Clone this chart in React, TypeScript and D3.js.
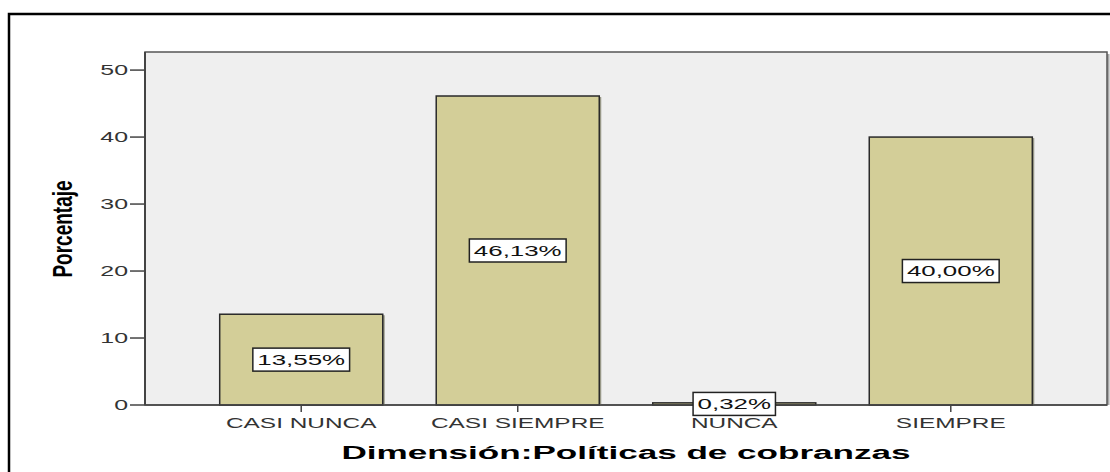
import React, { useEffect, useRef } from "react";
import * as d3 from "d3";

const categories = ["CASI NUNCA", "CASI SIEMPRE", "NUNCA", "SIEMPRE"];
const percentages = [13.55, 46.13, 0.32, 40.0];
const barLabels = ["13,55%", "46,13%", "0,32%", "40,00%"];
const yTicks = [0, 10, 20, 30, 40, 50];

const W = 1110;
const H = 472;
const FONT = "'Liberation Sans', Arial, sans-serif";
const SX = 1.78; // the picture is stretched sideways

export default function App() {
  const svgRef = useRef<SVGSVGElement>(null);

  useEffect(() => {
    if (!svgRef.current) return;
    const svg = d3.select(svgRef.current);
    svg.selectAll("*").remove();

    const plot = { left: 145, right: 1107, top: 52, bottom: 405 };

    const x = d3
      .scaleBand<string>()
      .domain(categories)
      .range([plot.left, plot.right])
      .paddingInner(0.247)
      .paddingOuter(0.345);

    const y = d3.scaleLinear().domain([0, 52.7]).range([plot.bottom, plot.top]);

    // outer frame (cut by the page edges)
    svg
      .append("rect")
      .attr("x", 9)
      .attr("y", 14)
      .attr("width", 1300)
      .attr("height", 700)
      .attr("fill", "#fff")
      .attr("stroke", "#000")
      .attr("stroke-width", 2.5);

    // plot background, with a thin shadow on the right
    svg
      .append("rect")
      .attr("x", plot.right)
      .attr("y", plot.top + 2)
      .attr("width", 2.5)
      .attr("height", plot.bottom - plot.top - 2)
      .attr("fill", "#a8a8a8");
    svg
      .append("rect")
      .attr("x", plot.left)
      .attr("y", plot.top)
      .attr("width", plot.right - plot.left)
      .attr("height", plot.bottom - plot.top)
      .attr("fill", "#efefef")
      .attr("stroke", "#555")
      .attr("stroke-width", 1.5);

    const data = categories.map((c, i) => ({
      cat: c,
      value: percentages[i],
      label: barLabels[i],
    }));

    // bar shadows
    svg
      .selectAll(".shadow")
      .data(data)
      .enter()
      .append("rect")
      .attr("x", (d) => x(d.cat)! + 2)
      .attr("y", (d) => y(d.value) + 1)
      .attr("width", x.bandwidth())
      .attr("height", (d) => plot.bottom - y(d.value) - 1)
      .attr("fill", "#9a9a8a");

    svg
      .selectAll(".bar")
      .data(data)
      .enter()
      .append("rect")
      .attr("x", (d) => x(d.cat)!)
      .attr("y", (d) => y(d.value))
      .attr("width", x.bandwidth())
      .attr("height", (d) => plot.bottom - y(d.value))
      .attr("fill", "#d3ce98")
      .attr("stroke", "#2a2a2a")
      .attr("stroke-width", 1.5);

    // zero line and left axis
    svg
      .append("line")
      .attr("x1", plot.left)
      .attr("x2", plot.right)
      .attr("y1", y(0))
      .attr("y2", y(0))
      .attr("stroke", "#444")
      .attr("stroke-width", 1.5);
    svg
      .append("line")
      .attr("x1", plot.left)
      .attr("x2", plot.left)
      .attr("y1", plot.top)
      .attr("y2", plot.bottom)
      .attr("stroke", "#444")
      .attr("stroke-width", 2);

    // y ticks
    const yt = svg.append("g");
    yt.selectAll("line")
      .data(yTicks)
      .enter()
      .append("line")
      .attr("x1", 130)
      .attr("x2", plot.left)
      .attr("y1", (d) => y(d))
      .attr("y2", (d) => y(d))
      .attr("stroke", "#444")
      .attr("stroke-width", 1.5);
    yt.selectAll("text")
      .data(yTicks)
      .enter()
      .append("text")
      .attr("transform", (d) => `translate(128,${y(d) + 5}) scale(${SX},1)`)
      .attr("text-anchor", "end")
      .style("font-family", FONT)
      .style("font-size", "14px")
      .style("fill", "#333")
      .text((d) => d);

    // x ticks
    const xt = svg.append("g");
    xt.selectAll("line")
      .data(categories)
      .enter()
      .append("line")
      .attr("x1", (d) => x(d)! + x.bandwidth() / 2)
      .attr("x2", (d) => x(d)! + x.bandwidth() / 2)
      .attr("y1", plot.bottom)
      .attr("y2", plot.bottom + 7)
      .attr("stroke", "#444")
      .attr("stroke-width", 1.5);
    xt.selectAll("text")
      .data(categories)
      .enter()
      .append("text")
      .attr(
        "transform",
        (d) => `translate(${x(d)! + x.bandwidth() / 2},428) scale(${SX * 0.98},1)`,
      )
      .attr("text-anchor", "middle")
      .style("font-family", FONT)
      .style("font-size", "14px")
      .style("fill", "#333")
      .text((d) => d);

    // value labels in boxes
    const lab = svg
      .selectAll(".lab")
      .data(data)
      .enter()
      .append("g")
      .attr(
        "transform",
        (d) =>
          `translate(${x(d.cat)! + x.bandwidth() / 2},${(y(d.value) + plot.bottom) / 2})`,
      );
    const labText = lab
      .append("text")
      .attr("transform", `translate(0,5) scale(1.85,1)`)
      .attr("text-anchor", "middle")
      .style("font-family", FONT)
      .style("font-size", "14px")
      .style("fill", "#111")
      .text((d) => d.label);
    labText.each(function () {
      const t = this as SVGTextElement;
      const w = t.getComputedTextLength() * 1.85 + 9;
      d3.select(t.parentNode as SVGGElement)
        .insert("rect", "text")
        .attr("x", -w / 2)
        .attr("y", -11.5)
        .attr("width", w)
        .attr("height", 23)
        .attr("fill", "#fff")
        .attr("stroke", "#222")
        .attr("stroke-width", 1.5);
    });

    // axis titles
    svg
      .append("text")
      .attr("transform", `translate(626,459) scale(1.95,1)`)
      .attr("text-anchor", "middle")
      .style("font-family", FONT)
      .style("font-size", "18px")
      .style("font-weight", "bold")
      .style("fill", "#000")
      .text("Dimensión:Políticas de cobranzas");

    svg
      .append("text")
      .attr("transform", `translate(72,229) rotate(-90) scale(1,1.5)`)
      .attr("text-anchor", "middle")
      .style("font-family", FONT)
      .style("font-size", "19px")
      .style("font-weight", "bold")
      .style("fill", "#000")
      .text("Porcentaje");
  }, []);

  return (
    <svg
      ref={svgRef}
      width={W}
      height={H}
      style={{ position: "absolute", left: 0, top: 0, background: "#fff" }}
    />
  );
}
